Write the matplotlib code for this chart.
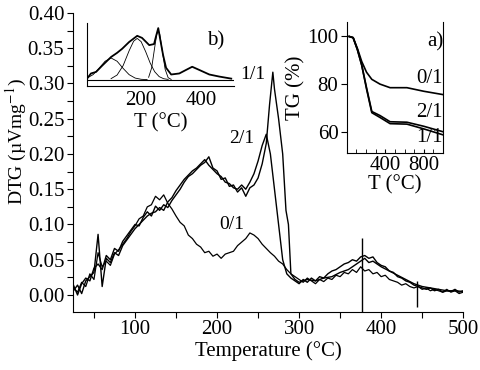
import matplotlib.pyplot as plt
from matplotlib.ticker import MultipleLocator

plt.rcParams.update({"font.family": ["Liberation Serif", "DejaVu Serif"],
                     "mathtext.fontset": "stix", "font.size": 15})

# main DTG curves (T in °C, DTG in uV/mg)
T_grid = list(range(25, 505, 5))
dtg_01 = [0.010, 0.004, 0.018, 0.012, 0.030, 0.022, 0.060, 0.040, 0.048, 0.042,
          0.058, 0.064, 0.072, 0.080, 0.090, 0.098, 0.108, 0.112, 0.125, 0.128,
          0.140, 0.135, 0.142, 0.130, 0.122, 0.112, 0.103, 0.098, 0.085, 0.080,
          0.072, 0.068, 0.060, 0.062, 0.055, 0.058, 0.052, 0.058, 0.060, 0.062,
          0.070, 0.075, 0.080, 0.088, 0.085, 0.080, 0.072, 0.066, 0.060, 0.055,
          0.048, 0.044, 0.036, 0.030, 0.026, 0.022, 0.018, 0.024, 0.020, 0.016,
          0.022, 0.019, 0.024, 0.022, 0.028, 0.026, 0.032, 0.030, 0.036, 0.032,
          0.040, 0.034, 0.036, 0.030, 0.032, 0.026, 0.028, 0.022, 0.020, 0.018,
          0.014, 0.016, 0.012, 0.010, 0.012, 0.008, 0.010, 0.006, 0.008, 0.006,
          0.004, 0.008, 0.004, 0.006, 0.002, 0.004]
dtg_21 = [0.006, 0.014, 0.002, 0.020, 0.026, 0.032, 0.086, 0.012, 0.052, 0.046,
          0.060, 0.056, 0.070, 0.078, 0.086, 0.094, 0.100, 0.106, 0.112, 0.116,
          0.118, 0.124, 0.120, 0.132, 0.138, 0.148, 0.156, 0.164, 0.170, 0.176,
          0.180, 0.186, 0.192, 0.184, 0.178, 0.172, 0.168, 0.160, 0.158, 0.152,
          0.150, 0.156, 0.150, 0.160, 0.172, 0.190, 0.212, 0.228, 0.200, 0.150,
          0.100, 0.050, 0.030, 0.024, 0.020, 0.016, 0.022, 0.018, 0.024, 0.020,
          0.026, 0.024, 0.030, 0.034, 0.036, 0.040, 0.044, 0.046, 0.050, 0.048,
          0.054, 0.056, 0.052, 0.054, 0.046, 0.042, 0.040, 0.034, 0.032, 0.026,
          0.024, 0.020, 0.018, 0.014, 0.012, 0.010, 0.008, 0.010, 0.006, 0.008,
          0.004, 0.006, 0.005, 0.008, 0.004, 0.006]
T_11 = [25, 30, 35, 40, 45, 50, 55, 60, 65, 70, 75, 80, 85, 90, 95, 100, 105, 110,
        115, 120, 125, 130, 135, 140, 145, 150, 155, 160, 165, 170, 175, 180, 185,
        190, 195, 200, 205, 210, 215, 220, 225, 230, 235, 240, 245, 250, 255, 260,
        264, 268, 270, 275, 280, 284, 287, 290, 295, 300, 310, 320, 330, 340, 350,
        360, 370, 375, 380, 385, 390, 400, 410, 420, 430, 440, 450, 460, 470, 480,
        490, 500]
dtg_11 = [0.014, 0.000, 0.016, 0.024, 0.020, 0.038, 0.044, 0.036, 0.056, 0.050,
          0.066, 0.062, 0.076, 0.084, 0.092, 0.100, 0.098, 0.110, 0.118, 0.112,
          0.126, 0.120, 0.128, 0.124, 0.134, 0.142, 0.150, 0.160, 0.168, 0.172,
          0.178, 0.184, 0.188, 0.196, 0.180, 0.176, 0.164, 0.166, 0.154, 0.156,
          0.146, 0.152, 0.140, 0.152, 0.156, 0.166, 0.186, 0.215, 0.270, 0.316,
          0.292, 0.250, 0.200, 0.120, 0.100, 0.030, 0.022, 0.018, 0.022, 0.020,
          0.024, 0.026, 0.032, 0.036, 0.044, 0.048, 0.052, 0.046, 0.048, 0.040,
          0.034, 0.028, 0.022, 0.016, 0.012, 0.010, 0.008, 0.006, 0.006, 0.005]
spike_T = [377, 444]
spike_lo = [-0.024, -0.017]
spike_hi = [0.081, 0.020]

# inset b) deconvolution
Tb = [20, 33, 50, 70, 100, 120, 137, 160, 187, 203, 227, 243, 250, 257, 263,
      273, 283, 300, 327, 350, 370, 393, 427, 460, 500]
vb = [0.02, 0.12, 0.15, 0.27, 0.44, 0.52, 0.60, 0.73, 0.85, 0.81, 0.67, 0.69,
      0.85, 1.00, 0.80, 0.48, 0.23, 0.10, 0.12, 0.19, 0.25, 0.19, 0.10, 0.06, 0.02]
g1_T = [20, 40, 60, 80, 100, 120, 140, 160, 180, 200, 220]
g1_v = [0.031, 0.097, 0.219, 0.357, 0.420, 0.357, 0.219, 0.097, 0.031, 0.007, 0.001]
g2_T = [100, 120, 140, 160, 175, 187, 200, 215, 230, 245, 260, 275, 290]
g2_v = [0.020, 0.090, 0.272, 0.560, 0.746, 0.800, 0.737, 0.545, 0.324, 0.155, 0.059, 0.018, 0.005]
g3_T = [225, 235, 245, 252, 257, 262, 270, 280, 290, 300]
g3_v = [0.046, 0.227, 0.620, 0.880, 0.950, 0.880, 0.576, 0.199, 0.038, 0.005]

# inset a) TG
Ta = [25, 66, 110, 155, 205, 260, 345, 450, 625, 800, 1000]
tg_01 = [100.0, 99.5, 95.0, 89.5, 85.0, 82.0, 80.0, 78.5, 78.5, 77.0, 75.6]
tg_21 = [100.0, 99.5, 94.5, 88.0, 78.5, 68.5, 66.8, 64.2, 64.0, 62.3, 60.0]
tg_11 = [100.0, 99.5, 94.5, 88.0, 78.0, 68.0, 66.0, 63.4, 63.2, 61.2, 58.7]

fig = plt.figure(figsize=(4.81, 3.70), dpi=100)
ax = fig.add_axes([0.151, 0.157, 0.812, 0.808])
ax.plot(T_grid, dtg_01, "k-", lw=0.9)
ax.plot(T_grid, dtg_21, "k-", lw=1.0)
ax.plot(T_11, dtg_11, "k-", lw=1.0)
ax.vlines(spike_T, spike_lo, spike_hi, color="k", lw=1.0)
ax.set_xlim(24, 500)
ax.set_ylim(-0.024, 0.40)
ax.spines["top"].set_visible(False)
ax.spines["right"].set_visible(False)
ax.xaxis.set_major_locator(MultipleLocator(100))
ax.xaxis.set_minor_locator(MultipleLocator(50))
ax.yaxis.set_major_locator(MultipleLocator(0.05))
ax.yaxis.set_minor_locator(MultipleLocator(0.025))
ax.yaxis.set_major_formatter(plt.FormatStrFormatter("%.2f"))
ax.tick_params(which="both", direction="out", length=4, width=0.8, pad=2)
ax.set_xlabel("Temperature (°C)", labelpad=1)
ax.set_ylabel("DTG (µVmg$^{-1}$)", fontsize=14)
ax.yaxis.set_label_coords(-0.112, 0.57)
ax.text(244, 0.312, "1/1", fontsize=14, ha="center", va="center")
ax.text(230, 0.222, "2/1", fontsize=14, ha="center", va="center")
ax.text(218, 0.100, "0/1", fontsize=14, ha="center", va="center")

axb = fig.add_axes([0.181, 0.768, 0.306, 0.170])
axb.plot(Tb, vb, "k-", lw=1.3)
axb.plot(g1_T, g1_v, "k-", lw=0.6)
axb.plot(g2_T, g2_v, "k-", lw=0.6)
axb.plot(g3_T, g3_v, "k-", lw=0.6)
axb.axhline(0, color="k", lw=0.8)
axb.set_xlim(20, 510)
axb.set_ylim(-0.12, 1.1)
axb.spines["top"].set_visible(False)
axb.spines["right"].set_visible(False)
axb.set_xticks([200, 400])
axb.set_yticks([])
axb.tick_params(length=0, pad=4)
axb.set_xlabel("T (°C)", labelpad=2)
axb.text(0.93, 0.72, "b)", transform=axb.transAxes, ha="right", va="center")

axa = fig.add_axes([0.721, 0.586, 0.200, 0.354])
axa.plot(Ta, tg_01, "k-", lw=1.2)
axa.plot(Ta, tg_21, "k-", lw=1.2)
axa.plot(Ta, tg_11, "k-", lw=1.2)
axa.set_xlim(0, 1000)
axa.set_ylim(51, 106)
axa.spines["top"].set_visible(False)
axa.set_xticks([400, 800])
axa.xaxis.set_minor_locator(MultipleLocator(100))
axa.set_yticks([60, 80, 100])
axa.tick_params(axis="x", which="both", direction="in", length=3, pad=2)
axa.tick_params(axis="y", direction="out", length=4, pad=2)
axa.set_xlabel("T (°C)", labelpad=0)
axa.set_ylabel("TG (%)", labelpad=1)
axa.text(1.0, 0.85, "a)", transform=axa.transAxes, ha="right", va="center")
axa.text(1.0, 0.57, "0/1", transform=axa.transAxes, ha="right", va="center")
axa.text(1.0, 0.31, "2/1", transform=axa.transAxes, ha="right", va="center")
axa.text(1.0, 0.12, "1/1", transform=axa.transAxes, ha="right", va="center")

fig.savefig("out.png", dpi=100)
